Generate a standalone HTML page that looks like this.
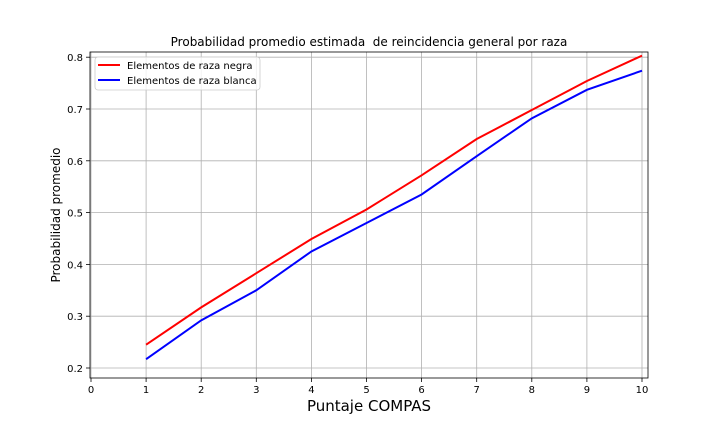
<!DOCTYPE html>
<html><head><meta charset="utf-8"><style>
body{margin:0;background:#fff;}
svg text{font-family:"DejaVu Sans","Liberation Sans",sans-serif;}
</style></head><body>
<svg id="chart" width="720" height="432" xmlns="http://www.w3.org/2000/svg">
<rect width="720" height="432" fill="#fff"/>
</svg>
<script>
const categories=[1,2,3,4,5,6,7,8,9,10];
const seriesNegra=[0.245,0.317,0.383,0.449,0.506,0.572,0.642,0.698,0.754,0.803];
const seriesBlanca=[0.217,0.292,0.350,0.425,0.480,0.535,0.609,0.682,0.737,0.774];
const xTicks=[0,1,2,3,4,5,6,7,8,9,10];
const yTicks=[0.2,0.3,0.4,0.5,0.6,0.7,0.8];
const L=90,R=648,T=52,B=378;
const x0=91,xs=55.1;
const xS=v=>x0+v*xs;
const yS=v=>368-(v-0.2)*518;
const svg=document.getElementById('chart');
const NS='http://www.w3.org/2000/svg';
function mk(tag,attrs,parent){const e=document.createElementNS(NS,tag);for(const k in attrs)e.setAttribute(k,attrs[k]);(parent||svg).appendChild(e);return e;}
const grid=mk('g',{});


xTicks.forEach(t=>{
  mk('line',{x1:xS(t),x2:xS(t),y1:T,y2:B,stroke:'#b0b0b0','stroke-width':0.8},grid);
  mk('line',{x1:xS(t),x2:xS(t),y1:B,y2:B+4,stroke:'#000','stroke-width':0.8});
  const tx=mk('text',{x:xS(t),y:B+15,'font-size':10,'text-anchor':'middle'});
  
  
  tx.textContent=t;
});
yTicks.forEach(t=>{
  mk('line',{x1:L,x2:R,y1:yS(t),y2:yS(t),stroke:'#b0b0b0','stroke-width':0.8},grid);
  mk('line',{x1:L-4,x2:L,y1:yS(t),y2:yS(t),stroke:'#000','stroke-width':0.8});
  const tx=mk('text',{x:L-7,y:yS(t)+4,'font-size':10,'text-anchor':'end'});
  
  
  tx.textContent=t.toFixed(1);
});
function line(vals,color,name){
  const p=mk('polyline',{points:categories.map((c,i)=>xS(c)+','+yS(vals[i])).join(' '),fill:'none',stroke:color,'stroke-width':2});
  
  
}
line(seriesNegra,'#ff0000','series-raza-negra');
line(seriesBlanca,'#0000ff','series-raza-blanca');
const frame=mk('rect',{x:L,y:T,width:R-L,height:B-T,fill:'none',stroke:'#000','stroke-width':0.8});


const title=mk('text',{x:369,y:46,'font-size':12,'text-anchor':'middle'});


title.textContent='Probabilidad promedio estimada  de reincidencia general por raza';
title.style.whiteSpace='pre';
const xt=mk('text',{x:369,y:411,'font-size':15,'text-anchor':'middle'});


xt.textContent='Puntaje COMPAS';
const yt=mk('text',{x:60,y:215,'font-size':12,'text-anchor':'middle',transform:'rotate(-90 60 215)'});


yt.textContent='Probabilidad promedio';
const lg=mk('g',{});


mk('rect',{x:95,y:57,width:165,height:33,rx:3,fill:'#fff','fill-opacity':0.8,stroke:'#ccc','stroke-width':0.8},lg);
[['Elementos de raza negra','#ff0000',65],['Elementos de raza blanca','#0000ff',80]].forEach(([lab,c,y])=>{
  const e=mk('g',{},lg);
  
  
  mk('line',{x1:98,x2:120,y1:y,y2:y,stroke:c,'stroke-width':2},e);
  const t=mk('text',{x:127,y:y+4,'font-size':10},e);t.textContent=lab;
});
</script>
</body></html>
